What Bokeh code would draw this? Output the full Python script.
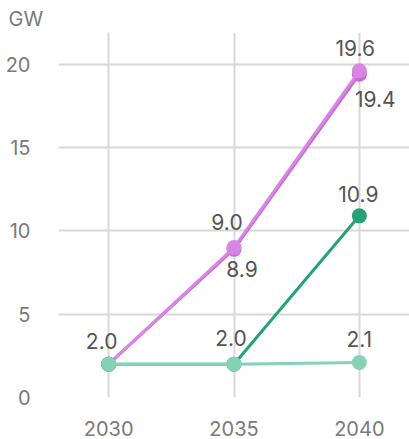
from bokeh.plotting import figure
from bokeh.models import ColumnDataSource, FixedTicker, Range1d
from bokeh.core.properties import value
from bokeh.embed import file_html
from bokeh.resources import INLINE

years = [2030, 2035, 2040]
series_a = [2.0, 9.0, 19.6]   # light purple
series_b = [2.0, 8.9, 19.4]   # purple
series_c = [2.0, 2.0, 10.9]   # dark green
series_d = [2.0, 2.0, 2.1]    # light green
y_ticks = [0, 5, 10, 15, 20]
unit = "GW"

FONT = "Inter"
p = figure(width=409, height=439, output_backend="svg", toolbar_location=None,
           x_range=Range1d(2028, 2042), y_range=Range1d(0, 21.9),
           min_border_left=58, min_border_right=0, min_border_top=32, min_border_bottom=42)
p.outline_line_color = None
p.background_fill_color = "white"
p.border_fill_color = "white"

p.title.text = unit
p.title.align = "left"
p.title.offset = -50
p.title.standoff = 4
p.title.text_font = FONT
p.title.text_font_size = "20px"
p.title.text_font_style = "normal"
p.title.text_color = "#7a7a7a"

for ax in (p.xaxis[0], p.yaxis[0]):
    ax.axis_line_color = None
    ax.major_tick_line_color = None
    ax.minor_tick_line_color = None
    ax.major_label_text_font = FONT
    ax.major_label_text_font_size = "20px"
    ax.major_label_text_color = "#7a7a7a"
p.xaxis[0].ticker = FixedTicker(ticks=years)
p.yaxis[0].ticker = FixedTicker(ticks=y_ticks)
p.xaxis[0].major_label_standoff = 17
p.yaxis[0].major_label_standoff = 22

p.xgrid[0].ticker = FixedTicker(ticks=years)
p.ygrid[0].ticker = FixedTicker(ticks=y_ticks)
for g in (p.xgrid[0], p.ygrid[0]):
    g.grid_line_color = "#d8d8d8"
    g.grid_line_width = 2

styles = [
    (series_b, "#c766d6"),
    (series_a, "#d985e3"),
    (series_c, "#27a275"),
    (series_d, "#84d3b4"),
]
for ys, col in styles:
    p.line(years, ys, line_color=col, line_width=3)
    p.scatter(years, ys, size=15, fill_color=col, line_color=None)

# labels: (series, index, dx, dy)
lab_spec = [
    (series_a, 0, -7, -23), (series_a, 1, -7, -26), (series_a, 2, -4, -23),
    (series_b, 1, 8, 20), (series_b, 2, 16, 25),
    (series_c, 2, -1, -22),
    (series_d, 1, -3, -26), (series_d, 2, 0, -24),
]
src = ColumnDataSource(dict(
    x=[years[i] for s, i, dx, dy in lab_spec],
    y=[s[i] for s, i, dx, dy in lab_spec],
    t=["%.1f" % s[i] for s, i, dx, dy in lab_spec],
    dx=[dx for s, i, dx, dy in lab_spec],
    dy=[dy for s, i, dx, dy in lab_spec],
))
p.text(x="x", y="y", text="t", x_offset="dx", y_offset="dy", source=src,
       text_font=value(FONT), text_font_size="21px", text_color="#555555",
       text_align="center", text_baseline="middle")

open("out.html", "w").write(file_html(p, INLINE))
